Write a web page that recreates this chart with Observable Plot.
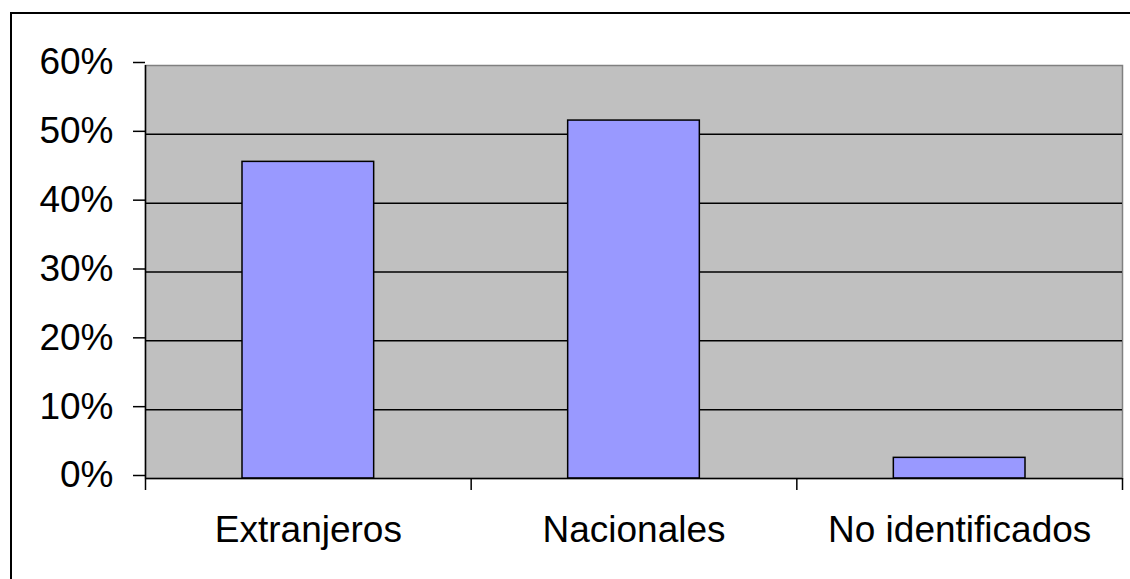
<!DOCTYPE html>
<html><head><meta charset="utf-8">
<script src="https://cdn.jsdelivr.net/npm/d3@7"></script>
<script src="https://cdn.jsdelivr.net/npm/@observablehq/plot@0.6"></script>
<style>
body{margin:0;background:#fff;}
#wrap{position:relative;width:1130px;height:579px;overflow:hidden;background:#fff;}
#wrap svg{position:absolute;left:0;top:0;}
#border{position:absolute;left:10px;top:12px;width:2000px;height:2000px;border-left:2px solid #000;border-top:2px solid #000;}
</style></head><body><div id="wrap"><div id="border"></div></div>
<script>
const categories = ["Extranjeros", "Nacionales", "No identificados"];
const values = [0.46, 0.52, 0.03];
const yTicks = [0, 0.1, 0.2, 0.3, 0.4, 0.5, 0.6];
const gridTicks = [0.1, 0.2, 0.3, 0.4, 0.5];
const xEdges = [0, 1, 2, 3];

const data = categories.map((c, i) => ({category: c, index: i, value: values[i]}));

const chart = Plot.plot({
  width: 1130,
  height: 579,
  marginLeft: 145,
  marginRight: 8,
  marginTop: 65,
  marginBottom: 101,
  style: {fontFamily: "'Liberation Sans', Arial, sans-serif", fontSize: "37px", background: "transparent", overflow: "visible", color: "#000"},
  x: {domain: [0, 3], label: null},
  y: {domain: [0, 0.6], label: null},
  marks: [
    Plot.frame({fill: "#c0c0c0", stroke: "#808080", strokeWidth: 1.5}),
    Plot.ruleY(gridTicks, {stroke: "#000", strokeWidth: 1.5}),
    Plot.rectY(data, {x1: "index", x2: d => d.index + 1, y1: 0, y2: "value", fill: "#9999ff", stroke: "#000", strokeWidth: 1.5, insetLeft: 97, insetRight: 97}),
    Plot.ruleX([0], {stroke: "#000", strokeWidth: 1.5}),
    Plot.ruleY([0], {stroke: "#000", strokeWidth: 1.5}),
    Plot.axisY({ticks: yTicks, label: null, tickSize: 12, tickPadding: 20, tickFormat: d3.format(".0%"), fontSize: 37, dy: -3, strokeWidth: 1.5, stroke: "#000", fill: "#000"}),
    Plot.axisX({ticks: xEdges, label: null, tickSize: 12, tickFormat: () => "", strokeWidth: 1.5, stroke: "#000"}),
    Plot.text(data, {x: d => d.index + 0.5, y: 0, text: "category", dy: 52, fontSize: 37, fill: "#000"})
  ]
});
document.getElementById("wrap").appendChild(chart);
</script>
</body></html>
